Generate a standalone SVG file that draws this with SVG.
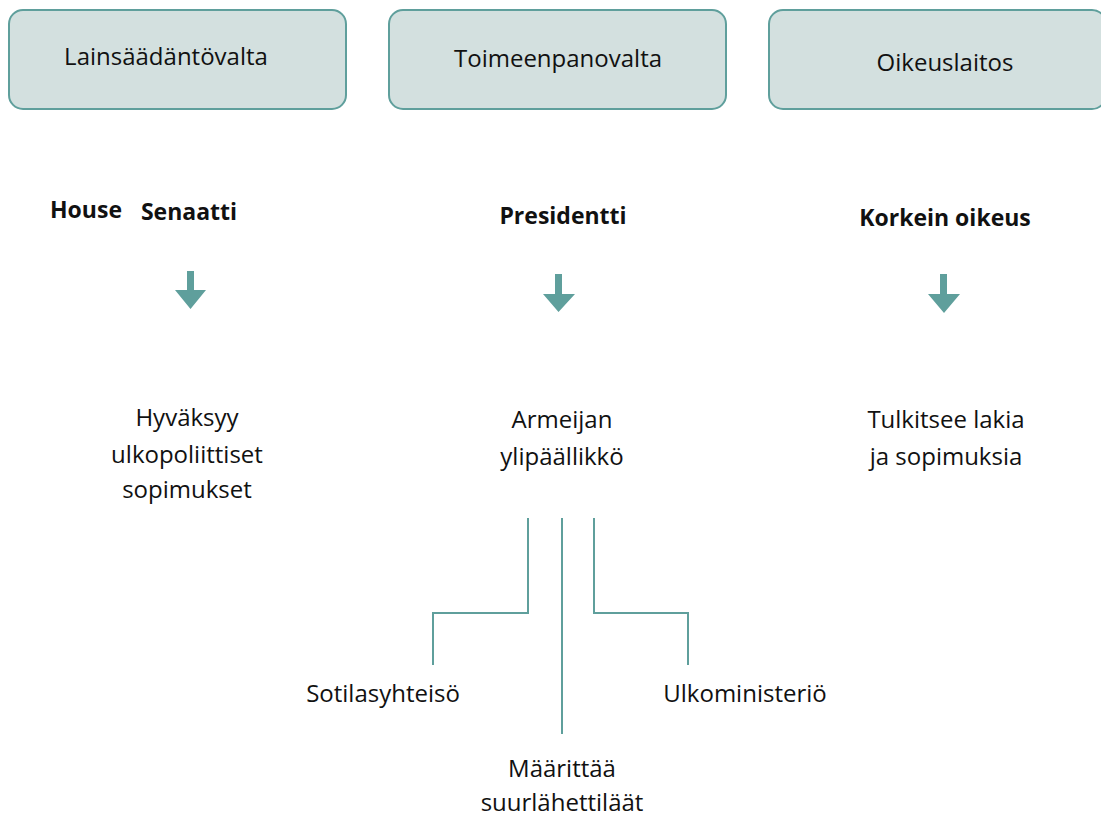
<svg xmlns="http://www.w3.org/2000/svg" width="1101" height="817" viewBox="0 0 1101 817">
<style>
.box{fill:#d3e0df;stroke:#5f9f9c;stroke-width:2}
text{font-family:"Open Sans","Noto Sans",sans-serif;font-size:24px;fill:#111;text-anchor:middle}
.b{font-weight:bold;font-size:23px}
.con{fill:none;stroke:#5f9f9c;stroke-width:2}
.arr{fill:#5f9f9c}
</style>
<rect width="1101" height="817" fill="#fff"/>
<g id="lainsaadantovalta"><rect class="box" x="9" y="10" width="337" height="99" rx="14"/><text x="166" y="65">Lainsäädäntövalta</text></g>
<g id="toimeenpanovalta"><rect class="box" x="389" y="10" width="337" height="99" rx="14"/><text x="558" y="67">Toimeenpanovalta</text></g>
<g id="oikeuslaitos"><rect class="box" x="769" y="10" width="337" height="99" rx="14"/><text x="945" y="71">Oikeuslaitos</text></g>
<g id="house"><text class="b" x="86" y="218">House</text></g>
<g id="senaatti"><text class="b" x="189" y="220">Senaatti</text></g>
<g id="presidentti"><text class="b" x="563" y="224">Presidentti</text></g>
<g id="korkein"><text class="b" x="945" y="226">Korkein oikeus</text></g>
<g id="hyvaksyy"><text x="187" y="426">Hyväksyy</text><text x="187" y="463">ulkopoliittiset</text><text x="187" y="498">sopimukset</text></g>
<g id="armeijan"><text x="562" y="428">Armeijan</text><text x="562" y="465">ylipäällikkö</text></g>
<g id="tulkitsee"><text x="946" y="428">Tulkitsee lakia</text><text x="946" y="465">ja sopimuksia</text></g>
<g id="sotilas"><text x="383" y="702">Sotilasyhteisö</text></g>
<g id="ulko"><text x="745" y="702">Ulkoministeriö</text></g>
<g id="maarittaa"><text x="562" y="777">Määrittää</text><text x="562" y="811">suurlähettiläät</text></g>
<g id="connectors">
<path class="arr" d="M187 271H194V290H206L190.5 309L175 290H187Z"/>
<path class="arr" d="M555 274H562V294H575L558.5 312L543 294H555Z"/>
<path class="arr" d="M940 274H947V294H960L944 313L928 294H940Z"/>
<path class="con" d="M528 518V613H433V665"/>
<path class="con" d="M562 518V734"/>
<path class="con" d="M594 518V613H688V665"/>
</g>
</svg>
